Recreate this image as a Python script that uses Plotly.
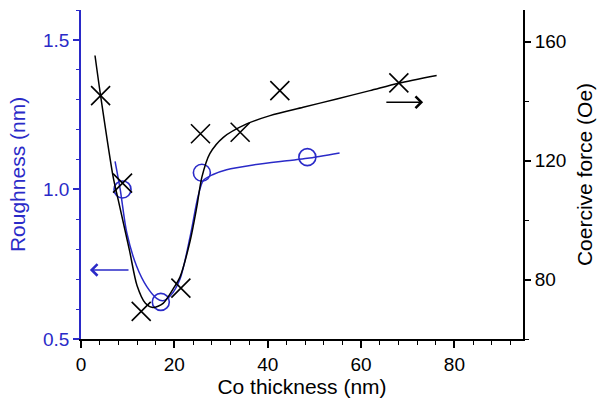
import plotly.graph_objects as go

# ---- data ----
# Roughness (left axis, blue)
rough_x = [8.9, 17.1, 25.9, 48.5]
rough_y = [1.0, 0.624, 1.056, 1.108]
rough_fit_x = [7.3, 8.4, 9.8, 11.9, 14.1, 16.2, 17.5, 19.1, 21.2, 23.4, 25.1, 26.2, 28.3, 31.2, 36.9, 44.1, 48.5, 55.4]
rough_fit_y = [1.094, 1.0, 0.856, 0.744, 0.675, 0.636, 0.628, 0.644, 0.70, 0.844, 0.978, 1.030, 1.050, 1.066, 1.082, 1.096, 1.104, 1.122]

# Coercive force (right axis, black)
hc_x = [4.2, 8.9, 12.9, 21.4, 25.6, 34.1, 42.6, 68.1]
hc_y = [141.8, 112.4, 69.3, 77.1, 129.0, 129.5, 143.5, 146.1]
hc_fit_x = [3.0, 4.2, 6.9, 8.0, 10.4, 12.0, 13.8, 15.4, 17.6, 19.8, 21.2, 23.4, 24.8, 25.9, 27.6, 30.5, 35.5, 40.5, 47.6, 54.8, 61.9, 68.0, 76.2]
hc_fit_y = [155.3, 141.8, 114.4, 106.6, 89.7, 78.0, 72.0, 70.6, 72.0, 77.0, 80.8, 93.1, 104.3, 114.4, 122.3, 127.8, 132.3, 135.1, 137.9, 140.7, 143.5, 146.0, 148.6]

# axis arrows (tail x, head x, y)
blue_arrow = (10.5, 1.9, 0.731)
black_arrow = (65.1, 73.3, 139.6)

BLUE = "#2a2ac8"
FONT = "Liberation Sans, Arial, sans-serif"

fig = go.Figure()
fig.add_trace(go.Scatter(x=rough_fit_x, y=rough_fit_y, mode="lines",
                         line=dict(color=BLUE, width=1.5, shape="spline", smoothing=0.8),
                         xaxis="x", yaxis="y", showlegend=False))
fig.add_trace(go.Scatter(x=rough_x, y=rough_y, mode="markers",
                         marker=dict(symbol="circle-open", size=17, color=BLUE,
                                     line=dict(width=1.6, color=BLUE)),
                         xaxis="x", yaxis="y", showlegend=False))
fig.add_trace(go.Scatter(x=hc_fit_x, y=hc_fit_y, mode="lines",
                         line=dict(color="black", width=1.5, shape="spline", smoothing=0.8),
                         xaxis="x", yaxis="y2", showlegend=False))
fig.add_trace(go.Scatter(x=hc_x, y=hc_y, mode="markers",
                         marker=dict(symbol="x-thin-open", size=19, color="black",
                                     line=dict(width=1.6, color="black")),
                         xaxis="x", yaxis="y2", showlegend=False))

fig.add_annotation(x=blue_arrow[1], y=blue_arrow[2], ax=blue_arrow[0], ay=blue_arrow[2],
                   xref="x", yref="y", axref="x", ayref="y", text="", showarrow=True,
                   arrowhead=4, arrowsize=1.5, arrowwidth=1.5, arrowcolor=BLUE)
fig.add_annotation(x=black_arrow[1], y=black_arrow[2], ax=black_arrow[0], ay=black_arrow[2],
                   xref="x", yref="y2", axref="x", ayref="y2", text="", showarrow=True,
                   arrowhead=4, arrowsize=1.5, arrowwidth=1.5, arrowcolor="black")

fig.update_layout(
    width=611, height=399,
    margin=dict(l=81, r=88, t=10, b=60),
    paper_bgcolor="white", plot_bgcolor="white",
    font=dict(family=FONT, size=19, color="black"),
    xaxis=dict(range=[0, 94.7], showgrid=False, zeroline=False, automargin=False,
               showline=True, linecolor="black", linewidth=1.8,
               ticks="outside", ticklen=7, tickwidth=1.5, tickcolor="black",
               tickvals=[0, 20, 40, 60, 80],
               minor=dict(dtick=4, tick0=0, ticks="outside", ticklen=4, tickwidth=1.3, tickcolor="black"),
               title=dict(text="Co thickness (nm)", font=dict(size=21), standoff=4),
               anchor="y"),
    xaxis2=dict(range=[0, 94.7], overlaying="x", side="top", anchor="y", automargin=False,
                showgrid=False, zeroline=False, showline=True, linecolor="black", linewidth=1.8,
                ticks="inside", ticklen=5, tickwidth=1.5, tickcolor="black",
                tickvals=[0, 20, 40, 60, 80], showticklabels=False,
                minor=dict(dtick=4, tick0=0, ticks="inside", ticklen=3, tickwidth=1.3, tickcolor="black")),
    yaxis=dict(range=[0.5, 1.6], showgrid=False, zeroline=False, automargin=False,
               showline=True, linecolor=BLUE, linewidth=1.8,
               ticks="outside", ticklen=6, tickwidth=1.5, tickcolor=BLUE,
               tickvals=[0.5, 1.0, 1.5], ticktext=["0.5", "1.0", "1.5"],
               tickfont=dict(color=BLUE),
               minor=dict(dtick=0.1, tick0=0.5, ticks="outside", ticklen=3, tickwidth=1.3, tickcolor=BLUE),
               title=dict(text="Roughness (nm)", font=dict(size=21, color=BLUE), standoff=12),
               anchor="x"),
    yaxis2=dict(range=[60, 170.6], overlaying="y", side="right", anchor="x", automargin=False,
                showgrid=False, zeroline=False,
                showline=True, linecolor="black", linewidth=1.8,
                ticks="outside", ticklen=6, tickwidth=1.5, tickcolor="black",
                tickvals=[80, 120, 160],
                minor=dict(dtick=20, tick0=60, ticks="outside", ticklen=4, tickwidth=1.3, tickcolor="black"),
                title=dict(text="Coercive force (Oe)", font=dict(size=21), standoff=12)),
)

fig.write_html("out.html", config={"displayModeBar": False},
               post_script="document.body.style.margin='0';document.body.style.overflow='hidden';")
